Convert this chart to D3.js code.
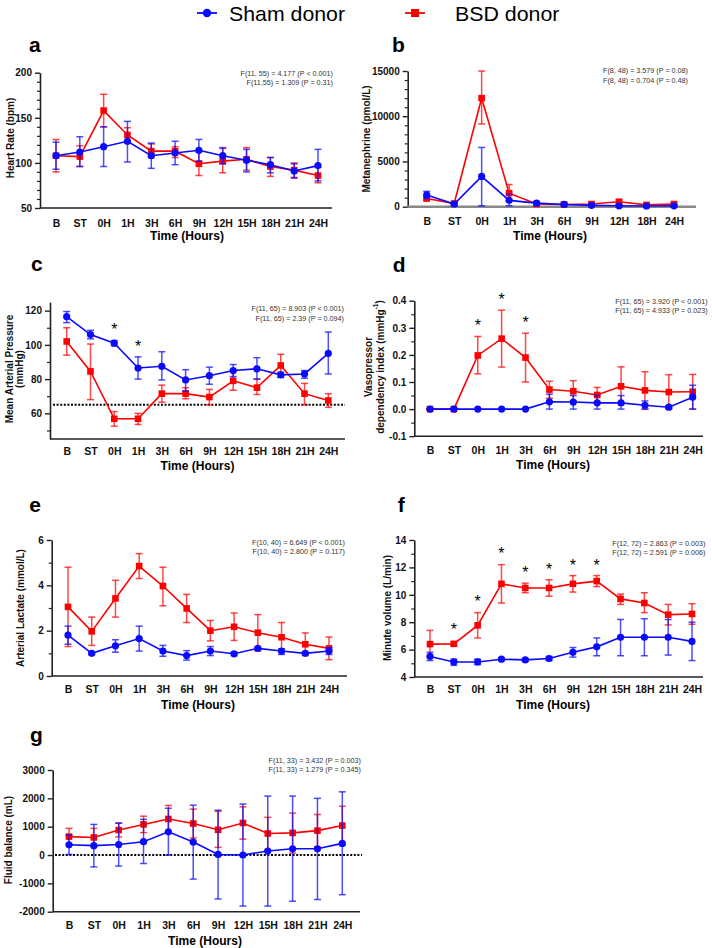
<!DOCTYPE html>
<html><head><meta charset="utf-8">
<script src="https://cdn.jsdelivr.net/npm/d3@7"></script>
<style>body{margin:0;background:#fff} svg{display:block}</style>
</head><body><svg id="chart" width="712" height="948"></svg>
<script>
// ---------- DATA ----------
const catsFull = ["B","ST","0H","1H","3H","6H","9H","12H","15H","18H","21H","24H"];
const catsMeta = ["B","ST","0H","1H","3H","6H","9H","12H","18H","24H"];
const seriesNames = ["Sham donor","BSD donor"];

// a Heart rate (bpm)
const hrSham   = [108,112,118,124,108,111,114,108,103,98,91,97];
const hrShamHi = [123,129,140,146,122,124,126,117,115,106,99,115];
const hrShamLo = [93,96,96,101,94,98,102,99,90,89,83,80];
const hrBsd    = [108,107,158,131,113,113,99,102,104,96,92,86];
const hrBsdHi  = [126,119,176,139,121,118,112,116,117,106,100,95];
const hrBsdLo  = [90,96,140,122,106,106,86,89,92,85,84,78];
const hrStats  = ["F(11, 55) = 4.177 (P < 0.001)","F(11,55) = 1.309 (P = 0.31)"];

// b Metanephrine (pmol/L)
const metSham   = [1300,300,3350,700,400,250,150,100,80,100];
const metShamHi = [1700,450,6550,1400,550,350,250,200,150,200];
const metShamLo = [900,150,100,100,250,150,50,0,0,0];
const metBsd    = [900,350,12000,1500,300,250,300,550,200,300];
const metBsdHi  = [1100,500,15000,2450,450,400,450,750,350,450];
const metBsdLo  = [700,200,9150,600,150,100,150,350,50,150];
const metStats  = ["F(8, 48) = 3.579 (P = 0.08)","F(8, 48) = 0.704 (P = 0.48)"];

// c Mean arterial pressure (mmHg)
const mapSham   = [116.5,106,101,86.5,87.5,79.5,82,85,86,82.5,83,95];
const mapShamHi = [119.5,108.5,102.5,93,96,85.5,87,88.5,92.5,84,85,107.5];
const mapShamLo = [113,103.5,99.5,80,79.5,73,77,81.5,80,81,80.5,83];
const mapBsd    = [102,84.5,56.8,56.8,71.5,71.5,69.5,79,75,88,71.5,67.5];
const mapBsdHi  = [110,100.5,61,60,76.5,75,74,84.5,80,94.5,77.5,71.5];
const mapBsdLo  = [94,68,52.5,53.5,66.5,68.5,65,73.5,71,81,65,63.5];
const mapSigCats = ["0H","1H"];
const mapSigVals = [111,101.3];
const mapStats  = ["F(11, 65) = 8.903 (P < 0.001)","F(11, 65) = 2.39 (P = 0.094)"];

// d Vasopressor dependency index
const vdiSham   = [0,0,0,0,0,0.027,0.026,0.023,0.023,0.014,0.007,0.044];
const vdiShamHi = [0,0,0,0,0,0.055,0.05,0.05,0.05,0.03,0.012,0.088];
const vdiShamLo = [0,0,0,0,0,0,0,0,0,0,0.002,0];
const vdiBsd    = [0,0,0.198,0.26,0.19,0.072,0.066,0.052,0.084,0.069,0.063,0.064];
const vdiBsdHi  = [0,0,0.268,0.365,0.28,0.103,0.105,0.08,0.156,0.138,0.127,0.128];
const vdiBsdLo  = [0,0,0.13,0.155,0.1,0.04,0.03,0.025,0.015,0,0,0];
const vdiSigCats = ["0H","1H","3H"];
const vdiSigVals = [0.321,0.418,0.334];
const vdiStats  = ["F(11, 65) = 3.920 (P < 0.001)","F(11, 65) = 4.933 (P = 0.023)"];

// e Arterial lactate (mmol/L)
const lacSham   = [1.8,1.0,1.33,1.65,1.1,0.9,1.1,0.98,1.22,1.1,1.0,1.1];
const lacShamHi = [2.2,1.06,1.6,2.2,1.35,1.12,1.3,1.05,1.28,1.2,1.06,1.25];
const lacShamLo = [1.4,0.94,1.05,1.1,0.87,0.7,0.9,0.9,1.15,0.95,0.94,0.95];
const lacBsd    = [3.05,1.97,3.42,4.85,3.97,2.98,2.0,2.17,1.91,1.71,1.4,1.22];
const lacBsdHi  = [4.8,2.6,4.22,5.4,4.8,3.6,2.45,2.78,2.71,2.36,1.9,1.72];
const lacBsdLo  = [1.3,1.35,2.6,4.3,3.1,2.36,1.55,1.57,1.1,1.05,0.9,0.72];
const lacStats  = ["F(10, 40) = 6.649 (P < 0.001)","F(10, 40) = 2.800 (P = 0.117)"];

// f Minute volume (L/min)
const mvSham   = [5.5,5.1,5.1,5.3,5.25,5.35,5.8,6.2,6.9,6.9,6.9,6.6];
const mvShamHi = [5.8,5.3,5.3,5.4,5.35,5.5,6.15,6.85,8.2,8.25,8.2,8.0];
const mvShamLo = [5.2,4.85,4.9,5.2,5.15,5.2,5.45,5.55,5.55,5.55,5.6,5.2];
const mvBsd    = [6.4,6.42,7.77,10.8,10.5,10.5,10.8,11.0,9.7,9.4,8.55,8.6];
const mvBsdHi  = [7.4,6.55,8.7,12.2,10.85,11.1,11.4,11.4,10.05,10.15,9.3,9.35];
const mvBsdLo  = [5.5,6.3,6.85,9.4,10.15,9.9,10.2,10.6,9.3,8.7,7.8,7.85];
const mvSigCats = ["ST","0H","1H","3H","6H","9H","12H"];
const mvSigVals = [7.75,9.79,13.26,11.89,12.13,12.42,12.37];
const mvStats  = ["F(12, 72) = 2.863 (P = 0.003)","F(12, 72) = 2.591 (P = 0.006)"];

// g Fluid balance (mL)
const fbSham   = [360,330,370,470,820,460,20,0,140,220,220,410];
const fbShamHi = [700,1080,1130,1260,1650,1760,1580,1800,2080,2080,2000,2230];
const fbShamLo = [20,-420,-390,-300,0,-850,-1550,-1800,-1800,-1630,-1570,-1400];
const fbBsd    = [650,620,880,1080,1270,1110,890,1130,760,780,860,1040];
const fbBsdHi  = [940,940,1120,1370,1750,1620,1540,1700,1330,1480,1430,1720];
const fbBsdLo  = [380,300,640,790,800,600,270,560,190,70,290,360];
const fbStats  = ["F(11, 33) = 3.432 (P = 0.003)","F(11, 33) = 1.279 (P = 0.345)"];

// ---------- DRAWING ----------
const FONT = '"Liberation Sans", Arial, Helvetica, sans-serif';
const BLUE = '#0a0aff', RED = '#ff0000', AX = '#222';
const svg = d3.select('#chart');
const fmtInt = v => String(v);
const fmt1 = v => v.toFixed(1);

function drawPanel(cfg){
  const g = svg.append('g');
  const x = d3.scalePoint().domain(cfg.cats).range(cfg.xr);
  const y = d3.scaleLinear().domain(cfg.dom).range(cfg.yr);
  const y0 = y(cfg.dom[0]);

  g.append('text').attr('x',cfg.letter[1]).attr('y',cfg.letter[2]).text(cfg.letter[0])
    .attr('font-family',FONT).attr('font-weight','bold').attr('font-size',21).attr('fill','#000');

  if(cfg.minor){
    const mins = d3.range(cfg.mstart, cfg.dom[1]+1e-9, cfg.minor)
      .filter(v => !cfg.ticks.some(t => Math.abs(t-v) < cfg.minor/10));
    const mg = g.append('g').attr('transform',`translate(${cfg.ax},0)`)
      .call(d3.axisLeft(y).tickValues(mins).tickSize(3).tickFormat(''));
    mg.select('.domain').remove();
    mg.selectAll('line').attr('stroke',AX).attr('stroke-width',1.2);
  }
  const ya = g.append('g').attr('transform',`translate(${cfg.ax},0)`)
    .call(d3.axisLeft(y).tickValues(cfg.ticks).tickSize(5).tickSizeOuter(0).tickPadding(3).tickFormat(cfg.fmt || fmtInt));
  ya.select('.domain').attr('stroke',AX).attr('stroke-width',1.6);
  ya.selectAll('.tick line').attr('stroke',AX).attr('stroke-width',1.4);
  ya.selectAll('text').attr('font-family',FONT).attr('font-size',10).attr('font-weight','bold').attr('fill','#111');

  const xa = g.append('g').attr('transform',`translate(0,${y0})`).call(d3.axisBottom(x).tickSize(0));
  xa.select('.domain').remove();
  xa.selectAll('text').attr('y',cfg.xlab - y0).attr('dy',null)
    .attr('font-family',FONT).attr('font-size',10.5).attr('font-weight','bold').attr('fill','#111');
  g.append('line').attr('x1',cfg.ax).attr('x2',cfg.axr).attr('y1',y0).attr('y2',y0)
    .attr('stroke',cfg.xcol || AX).attr('stroke-width',cfg.xw || 1.6);

  g.append('text').attr('x',cfg.tx).attr('y',cfg.tlab).attr('text-anchor','middle')
    .attr('font-family',FONT).attr('font-size',12).attr('font-weight','bold').text('Time (Hours)');

  cfg.ylabel.forEach(l => {
    const t = g.append('text').attr('transform',`translate(${l.x},${cfg.ylc}) rotate(-90)`)
      .attr('dy','0.35em').attr('text-anchor','middle')
      .attr('font-family',FONT).attr('font-size',10).attr('font-weight','bold').attr('fill','#111');
    t.append('tspan').text(l.t);
    if(l.sup){
      t.append('tspan').attr('font-size',6.5).attr('dy','-0.9em').text(l.sup);
      t.append('tspan').attr('font-size',10).attr('dy','0.55em').text(l.after);
    }
  });

  if(cfg.ref !== undefined){
    g.append('line').attr('x1',cfg.refx[0]).attr('x2',cfg.refx[1]).attr('y1',y(cfg.ref)).attr('y2',y(cfg.ref))
      .attr('stroke','#000').attr('stroke-width',2).attr('stroke-dasharray','2,1.6');
  }

  cfg.stats.forEach((s,i) => {
    g.append('text').attr('x',cfg.annx).attr('y',cfg.anny[i]).attr('text-anchor','end')
      .attr('font-family',FONT).attr('font-size',7.2).attr('fill','#333').text(s);
  });

  const draw = (mean, hi, lo, color, shape) => {
    const sg = g.append('g');
    mean.forEach((m,i) => {
      const cx = x(cfg.cats[i]);
      sg.append('line').attr('x1',cx).attr('x2',cx).attr('y1',y(hi[i])).attr('y2',y(lo[i]))
        .attr('stroke',color).attr('stroke-width',1.5).attr('stroke-opacity',0.72);
      [hi[i],lo[i]].forEach(v => sg.append('line').attr('x1',cx-3.5).attr('x2',cx+3.5)
        .attr('y1',y(v)).attr('y2',y(v)).attr('stroke',color).attr('stroke-width',1.5).attr('stroke-opacity',0.72));
    });
    sg.append('path').datum(mean)
      .attr('d', d3.line().x((d,i)=>x(cfg.cats[i])).y(d=>y(d)))
      .attr('fill','none').attr('stroke',color).attr('stroke-width',1.6);
    mean.forEach((m,i) => {
      const cx = x(cfg.cats[i]), cy = y(m);
      if(shape==='circle') sg.append('circle').attr('cx',cx).attr('cy',cy).attr('r',3.6).attr('fill',color);
      else sg.append('rect').attr('x',cx-3.3).attr('y',cy-3.3).attr('width',6.6).attr('height',6.6).attr('fill',color);
    });
  };
  draw(cfg.bsd[0],cfg.bsd[1],cfg.bsd[2],RED,'square');
  draw(cfg.sham[0],cfg.sham[1],cfg.sham[2],BLUE,'circle');

  if(cfg.sig){
    cfg.sig[0].forEach((c,i) => {
      g.append('text').attr('x',x(c)).attr('y',y(cfg.sig[1][i]) + 9).attr('text-anchor','middle')
        .attr('font-family',FONT).attr('font-size',16).attr('fill','#000').text('*');
    });
  }
}

drawPanel({cats:catsFull, xr:[56,318], dom:[50,200], yr:[208,72.7], ax:40, axr:332,
  ticks:[50,100,150,200], minor:10, mstart:50, xlab:226.5, tlab:240, tx:187,
  ylabel:[{t:'Heart Rate (bpm)', x:10}], ylc:138, letter:['a',29,52],
  annx:333, anny:[75.5,85], stats:hrStats,
  sham:[hrSham,hrShamHi,hrShamLo], bsd:[hrBsd,hrBsdHi,hrBsdLo]});

drawPanel({cats:catsMeta, xr:[426.7,674], dom:[0,15000], yr:[206.7,71], ax:407.7, axr:696,
  ticks:[0,5000,10000,15000], minor:1000, mstart:0, xlab:225.5, tlab:240, tx:550,
  xcol:'#888', xw:2.4,
  ylabel:[{t:'Metanephrine (pmol/L)', x:366}], ylc:139, letter:['b',392,52],
  annx:688, anny:[73,82.5], stats:metStats,
  sham:[metSham,metShamHi,metShamLo], bsd:[metBsd,metBsdHi,metBsdLo]});

drawPanel({cats:catsFull, xr:[66.7,328.3], dom:[45,125], yr:[439,302.1], ax:50, axr:345,
  ticks:[60,80,100,120], minor:10, mstart:50, xlab:455, tlab:470, tx:197.5,
  ylabel:[{t:'Mean Arterial Pressure', x:9},{t:'(mmHg)', x:19}], ylc:369, letter:['c',31,270.5],
  annx:344, anny:[311,320.5], stats:mapStats, ref:65, refx:[53,345],
  sig:[mapSigCats,mapSigVals],
  sham:[mapSham,mapShamHi,mapShamLo], bsd:[mapBsd,mapBsdHi,mapBsdLo]});

drawPanel({cats:catsFull, xr:[430,692.7], dom:[-0.1,0.4], yr:[436.2,300.7], ax:414.3, axr:703,
  ticks:[-0.1,0,0.1,0.2,0.3,0.4], fmt:fmt1, minor:0.05, mstart:-0.05, xlab:454, tlab:469, tx:553,
  ylabel:[{t:'Vasopressor', x:368},{t:'dependency index (mmHg', sup:'-1', after:')', x:380}], ylc:367,
  letter:['d',392.7,271.5],
  annx:707.7, anny:[304,313], stats:vdiStats, sig:[vdiSigCats,vdiSigVals],
  sham:[vdiSham,vdiShamHi,vdiShamLo], bsd:[vdiBsd,vdiBsdHi,vdiBsdLo]});

drawPanel({cats:catsFull, xr:[68,329], dom:[0,6], yr:[676,540], ax:51.7, axr:347,
  ticks:[0,2,4,6], minor:1, mstart:0, xlab:693, tlab:709, tx:198,
  ylabel:[{t:'Arterial Lactate (mmol/L)', x:20}], ylc:608, letter:['e',29.3,511.5],
  annx:345, anny:[545,554], stats:lacStats,
  sham:[lacSham,lacShamHi,lacShamLo], bsd:[lacBsd,lacBsdHi,lacBsdLo]});

drawPanel({cats:catsFull, xr:[430,692], dom:[4,14], yr:[677,540], ax:414.3, axr:703,
  ticks:[4,6,8,10,12,14], minor:1, mstart:4, xlab:693, tlab:709, tx:553,
  ylabel:[{t:'Minute volume (L/min)', x:387}], ylc:608, letter:['f',397.7,511.5],
  annx:705.3, anny:[545.7,555], stats:mvStats, sig:[mvSigCats,mvSigVals],
  sham:[mvSham,mvShamHi,mvShamLo], bsd:[mvBsd,mvBsdHi,mvBsdLo]});

drawPanel({cats:catsFull, xr:[69,342.3], dom:[-2000,3000], yr:[911.7,770], ax:52.7, axr:360,
  ticks:[-2000,-1000,0,1000,2000,3000], minor:0, xlab:929, tlab:945, tx:205,
  ylabel:[{t:'Fluid balance (mL)', x:8.5}], ylc:840, letter:['g',30,742],
  annx:361, anny:[762.5,772], stats:fbStats, ref:0, refx:[55,362],
  sham:[fbSham,fbShamHi,fbShamLo], bsd:[fbBsd,fbBsdHi,fbBsdLo]});

// legend
const leg = svg.append('g');
const legendItems = [
  {name:seriesNames[0], color:BLUE, shape:'circle', lx:197, tx:229},
  {name:seriesNames[1], color:RED, shape:'square', lx:405, tx:455}
];
legendItems.forEach(it => {
  leg.append('line').attr('x1',it.lx).attr('x2',it.lx+20).attr('y1',13).attr('y2',13)
    .attr('stroke',it.color).attr('stroke-width',1.8);
  if(it.shape==='circle') leg.append('circle').attr('cx',it.lx+10).attr('cy',13).attr('r',4.2).attr('fill',it.color);
  else leg.append('rect').attr('x',it.lx+10-4).attr('y',9).attr('width',8).attr('height',8).attr('fill',it.color);
  leg.append('text').attr('x',it.tx).attr('y',21).attr('font-family',FONT)
    .attr('font-size',21).attr('fill','#000').attr('textLength', it.name.length*11.6).attr('lengthAdjust','spacingAndGlyphs').text(it.name);
});
</script></body></html>
